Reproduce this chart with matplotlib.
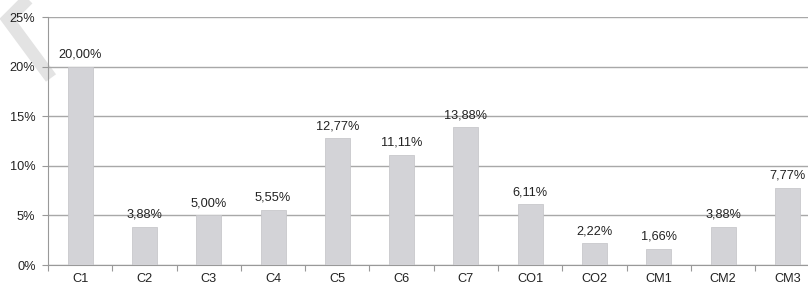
import numpy as np
import matplotlib.pyplot as plt
from matplotlib.lines import Line2D

plt.rcParams['font.family'] = ['Liberation Sans', 'DejaVu Sans']

categories = ["C1", "C2", "C3", "C4", "C5", "C6", "C7", "CO1", "CO2", "CM1", "CM2", "CM3"]
values = [20.00, 3.88, 5.00, 5.55, 12.77, 11.11, 13.88, 6.11, 2.22, 1.66, 3.88, 7.77]
yticks = [0, 5, 10, 15, 20, 25]

W, H = 808, 288
fig = plt.figure(figsize=(W / 100, H / 100), dpi=100)

# axes extends a bit past the right edge, like the cropped original
left, bottom, top = 48, 265, 17
cat_w = 64.3
ax = fig.add_axes([left / W, (H - bottom) / H, len(categories) * cat_w / W, (bottom - top) / H])
ax.patch.set_alpha(0)

x = np.arange(len(categories))
ax.bar(x, values, width=0.39, color="#d3d3d7", edgecolor="#c8c8cc", linewidth=0.6, zorder=3)

for xi, v in zip(x, values):
    ax.text(xi, v + 0.6, f"{v:.2f}%".replace(".", ","), ha="center", va="bottom",
            fontsize=9.2, color="#222222", zorder=4)

ax.set_xlim(-0.5, len(categories) - 0.5)
ax.set_ylim(0, 25)
ax.set_yticks(yticks)
ax.set_yticklabels([f"{t}%" for t in yticks])
ax.set_xticks(x)
ax.set_xticklabels(categories)
ax.set_xticks(np.arange(len(categories) + 1) - 0.5, minor=True)
ax.tick_params(axis="x", which="major", length=0, pad=6, labelsize=9.2, labelcolor="#222222")
ax.tick_params(axis="x", which="minor", length=4, color="#999999", width=0.8)
ax.tick_params(axis="y", length=4, color="#999999", width=0.8, labelsize=9.2, labelcolor="#222222", pad=5)

ax.yaxis.grid(True, color="#a8a8a8", linewidth=1.0, zorder=0)
for s in ["top", "right"]:
    ax.spines[s].set_visible(False)
for s in ["left", "bottom"]:
    ax.spines[s].set_color("#999999")
    ax.spines[s].set_linewidth(0.8)

# faint watermark stroke in the top-left corner, behind everything
px = [32, 7.7, 51]
py = [-5, 19.3, 78]
fig.lines.append(Line2D([p / W for p in px], [(H - p) / H for p in py],
                        transform=fig.transFigure, color="#e3e3e3", linewidth=9,
                        solid_capstyle="butt", solid_joinstyle="miter", zorder=-5))

fig.savefig("out.png", dpi=100)
